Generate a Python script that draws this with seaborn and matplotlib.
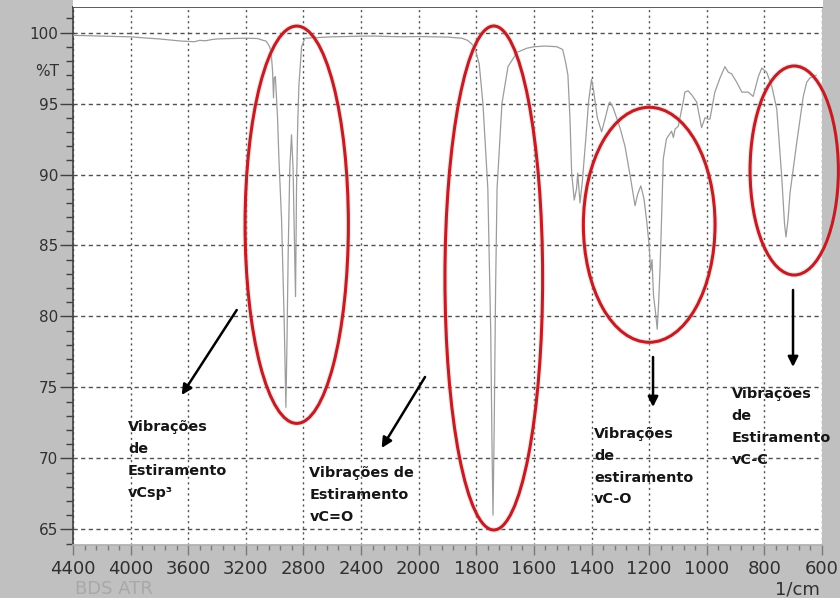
import numpy as np
import pandas as pd
import matplotlib
matplotlib.use("Agg")
import matplotlib.pyplot as plt
import seaborn as sns
from matplotlib.patches import Ellipse, Rectangle

# FTIR-ATR spectrum: wavenumber (1/cm) and transmittance (%T)
wavenumber = [
    4400, 4300, 4200, 4100, 4000, 3900, 3800, 3750, 3700, 3650, 3600, 3560,
    3520, 3480, 3440, 3400, 3300, 3200, 3120, 3080, 3060, 3040, 3025, 3014,
    3008, 3003, 2995, 2988, 2980, 2970, 2952, 2934, 2922, 2914, 2906, 2895,
    2883, 2872, 2864, 2855, 2848, 2840, 2832, 2813, 2790, 2700, 2600, 2500,
    2400, 2300, 2200, 2100, 2000, 1900, 1850, 1830, 1816, 1805, 1790, 1777,
    1760, 1750, 1745, 1742, 1738, 1733, 1728, 1711, 1690, 1659, 1624, 1600,
    1560, 1520, 1500, 1489, 1482, 1475, 1469, 1460, 1452, 1448, 1444, 1440,
    1432, 1420, 1410, 1400, 1392, 1380, 1365, 1352, 1340, 1336, 1325, 1313,
    1300, 1284, 1265, 1249, 1240, 1229, 1218, 1209, 1200, 1195, 1190, 1185,
    1178, 1172, 1167, 1162, 1156, 1151, 1140, 1134, 1122, 1116, 1110, 1099,
    1082, 1076, 1065, 1052, 1035, 1018, 1006, 995, 989, 972, 954, 937,
    925, 914, 896, 878, 856, 839, 821, 809, 792, 774, 757, 740,
    730, 725, 718, 711, 688, 665, 653, 642, 630, 620,
]
transmittance = [
    99.80, 99.78, 99.75, 99.72, 99.70, 99.62, 99.55, 99.50, 99.45, 99.40, 99.38, 99.35,
    99.45, 99.42, 99.50, 99.55, 99.58, 99.60, 99.58, 99.45, 99.40, 99.10, 98.70, 97.20,
    95.40, 96.80, 96.90, 95.50, 94.00, 91.00, 86.80, 79.80, 73.60, 78.50, 84.50, 90.40,
    92.80, 90.40, 85.90, 81.40, 89.20, 93.50, 96.20, 99.00, 99.60, 99.65, 99.70, 99.72,
    99.75, 99.75, 99.72, 99.70, 99.72, 99.68, 99.60, 99.45, 99.20, 98.90, 97.80, 95.00,
    89.00, 79.00, 70.00, 66.00, 72.00, 82.00, 89.00, 95.00, 97.60, 98.60, 98.90, 99.00,
    99.05, 99.00, 98.80, 97.80, 97.00, 94.00, 90.10, 88.20, 89.00, 90.10, 89.00, 88.00,
    89.50, 92.50, 95.20, 96.70, 95.80, 94.00, 93.00, 94.00, 95.00, 95.10, 94.70, 94.00,
    93.20, 92.00, 89.80, 87.80, 88.60, 89.20, 88.30, 86.80, 85.00, 83.20, 84.00, 81.50,
    80.30, 79.10, 81.00, 83.50, 87.50, 91.10, 92.50, 92.70, 93.05, 92.60, 93.20, 93.40,
    95.10, 95.80, 95.90, 95.60, 95.10, 93.30, 94.00, 93.90, 93.90, 95.80, 96.80, 97.60,
    97.20, 97.10, 96.50, 95.80, 95.80, 95.50, 96.90, 97.50, 97.20, 96.20, 94.60, 89.90,
    86.50, 85.60, 86.80, 88.70, 92.20, 95.50, 96.50, 96.80, 96.90, 97.00,
]

x_major = [4400, 4000, 3600, 3200, 2800, 2400, 2000, 1800, 1600, 1400, 1200, 1000, 800, 600]
y_major = [65, 70, 75, 80, 85, 90, 95, 100]

labels = [
    "Vibrações\nde\nEstiramento\nvCsp³",
    "Vibrações de\nEstiramento\nvC=O",
    "Vibrações\nde\nestiramento\nvC-O",
    "Vibrações\nde\nEstiramento\nvC-C",
]


# Instrument axis: 400 1/cm per division above 2000, 200 1/cm per division below
def fwd(w):
    w = np.asarray(w, dtype=float)
    return np.where(w <= 2000, (w - 600) / 200.0, 7 + (w - 2000) / 400.0)


def inv(u):
    u = np.asarray(u, dtype=float)
    return np.where(u <= 7, 600 + 200.0 * u, 2000 + 400.0 * (u - 7))


sns.set_theme(style="white")
plt.rcParams["font.family"] = ["DejaVu Sans"]

fig = plt.figure(figsize=(8.4, 5.98), dpi=100, facecolor="#c0c0c0")
fig.patches.append(Rectangle((73 / 840, 1 - 7 / 598), 750 / 840, 7 / 598,
                             transform=fig.transFigure, facecolor="white",
                             edgecolor="none", zorder=0))
ax = fig.add_axes([73 / 840, 1 - 545 / 598, 749 / 840, 538 / 598])
ax.set_facecolor("white")

df = pd.DataFrame({"wn": wavenumber, "T": transmittance})
sns.lineplot(data=df, x="wn", y="T", sort=False, estimator=None,
             color="#9c9c9c", linewidth=0.9, ax=ax, zorder=3)

ax.set_xscale("function", functions=(fwd, inv))
ax.set_xlim(4400, 600)
ax.set_ylim(63.9, 101.8)
ax.set_xlabel("")
ax.set_ylabel("")

# ticks
x_minor = []
for a, b in zip(x_major[:-1], x_major[1:]):
    step = (a - b) / 5
    x_minor += [a - step * k for k in range(1, 5)]
ax.set_xticks(x_major)
ax.set_xticklabels([str(v) for v in x_major])
ax.set_xticks(x_minor, minor=True)
ax.set_yticks(y_major)
ax.set_yticklabels([str(v) for v in y_major])
ax.set_yticks(np.arange(64, 102, 1), minor=True)

ax.tick_params(axis="x", which="both", bottom=True, direction="out",
               color="#7a7a7a", width=1.0, labelsize=13, labelcolor="#303030", pad=3.6)
ax.tick_params(axis="x", which="major", length=7.2)
ax.tick_params(axis="x", which="minor", length=3.6)
ax.tick_params(axis="y", which="both", left=True, direction="out",
               color="#404040", width=1.0, labelsize=11, labelcolor="#303030", pad=1.2)
ax.tick_params(axis="y", which="major", length=9.4)
ax.tick_params(axis="y", which="minor", length=5.3)

# grid
ax.set_axisbelow(True)
ax.xaxis.grid(True, which="major", linestyle=(0, (1.5, 2.5)), color="#505050", linewidth=1.0)
ax.yaxis.grid(True, which="major", linestyle=(0, (3, 2.5)), color="#505050", linewidth=1.0)

for side in ["left", "top"]:
    ax.spines[side].set_color("#404040")
    ax.spines[side].set_linewidth(1.2)
ax.spines["bottom"].set_color("#b0b0b0")
ax.spines["right"].set_visible(False)

ax.text(-0.018, 0.8797, "%T", transform=ax.transAxes, ha="right", va="center",
        fontsize=11, color="#303030")
fig.text(820 / 840, 1 - 590 / 598, "1/cm", ha="right", va="center", fontsize=13, color="#303030")
fig.text(75 / 840, 1 - 589 / 598, "BDS ATR", ha="left", va="center", fontsize=13, color="#a8a8a8")

# highlighted absorption bands
ellipses = [
    (0.2987, 0.5953, 0.1379, 0.7385),
    (0.5618, 0.4963, 0.1304, 0.9368),
    (0.7693, 0.5952, 0.1758, 0.4368),
    (0.9629, 0.6961, 0.1179, 0.3885),
]
for cx, cy, w, h in ellipses:
    ax.add_patch(Ellipse((cx, cy), w, h, transform=ax.transAxes, fill=False,
                         ec="#f0b0b0", lw=4.0, alpha=0.35, clip_on=False, zorder=5))
    ax.add_patch(Ellipse((cx, cy), w, h, transform=ax.transAxes, fill=False,
                         ec="#bd1f27", lw=2.2, clip_on=False, zorder=6))

arrows = [
    ((0.2186, 0.4368), (0.1451, 0.2788)),
    ((0.4700, 0.3123), (0.4121, 0.1803)),
    ((0.7744, 0.3494), (0.7744, 0.2565)),
    ((0.9613, 0.4740), (0.9613, 0.3309)),
]
for start, end in arrows:
    ax.annotate("", xy=end, xytext=start, xycoords="axes fraction",
                textcoords="axes fraction", annotation_clip=False,
                arrowprops=dict(arrowstyle="-|>", color="black", lw=1.8,
                                mutation_scale=15, shrinkA=0, shrinkB=0),
                zorder=7)

label_pos = [(0.0734, 0.2323), (0.3155, 0.1474), (0.6956, 0.2199), (0.8794, 0.2931)]
for (tx, ty), s in zip(label_pos, labels):
    ax.text(tx, ty, s, transform=ax.transAxes, ha="left", va="top", fontsize=10.4,
            fontweight="bold", linespacing=1.72, color="#151515", zorder=8)

fig.savefig("out.png", dpi=100, facecolor=fig.get_facecolor())
